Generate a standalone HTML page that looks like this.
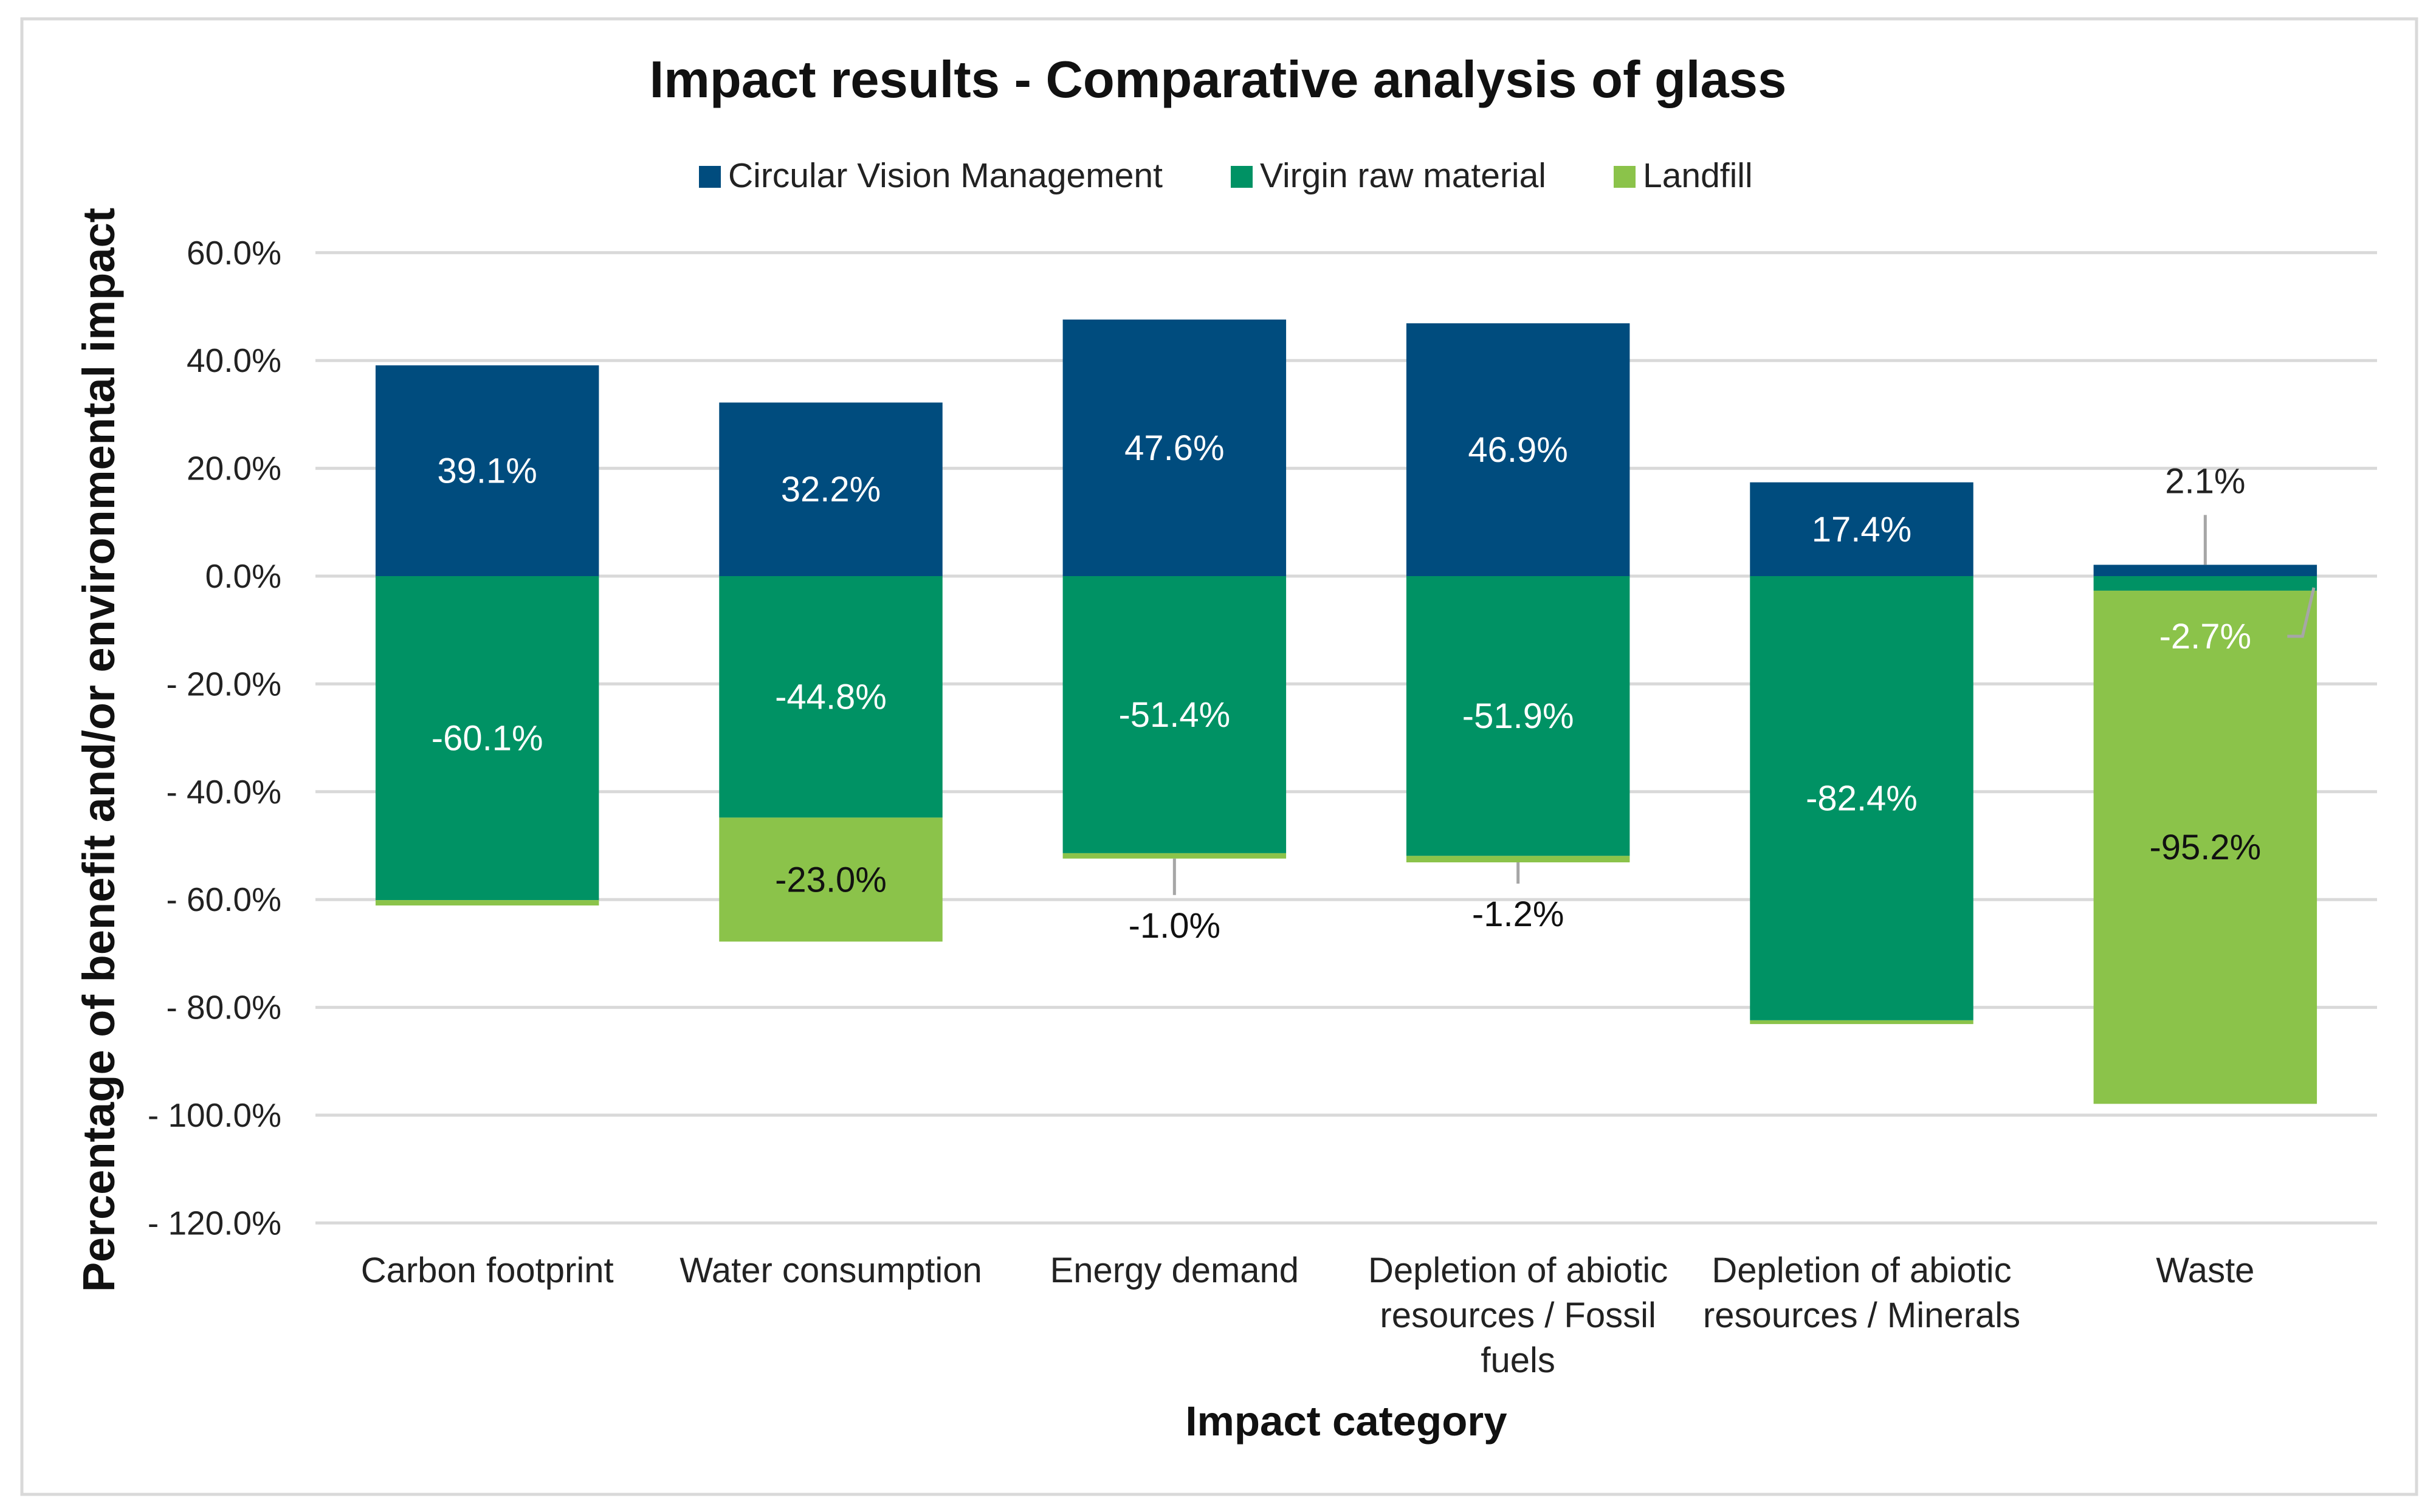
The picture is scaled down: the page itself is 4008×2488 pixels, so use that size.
<!DOCTYPE html>
<html><head><meta charset="utf-8"><style>
html,body{margin:0;padding:0;background:#fff;}
svg{display:block;font-family:"Liberation Sans",sans-serif;}
</style></head><body>
<svg id="chart" width="4008" height="2488" viewBox="0 0 4008 2488" xmlns="http://www.w3.org/2000/svg">
<rect x="36" y="31" width="3940" height="2428" fill="#fff" stroke="#d9d9d9" stroke-width="5"/>
<text x="2004" y="160" text-anchor="middle" font-size="85" font-weight="bold" fill="#111">Impact results - Comparative analysis of glass</text>
<g font-size="57" fill="#222">
<rect x="1150" y="273" width="36" height="36" fill="#004c7e"/>
<text x="1198" y="308">Circular Vision Management</text>
<rect x="2025" y="273" width="36" height="36" fill="#009264"/>
<text x="2073" y="308">Virgin raw material</text>
<rect x="2655" y="273" width="36" height="36" fill="#8bc34a"/>
<text x="2703" y="308">Landfill</text>
</g>
<g id="grid"></g>
<g id="bars"></g>
<g id="labels"></g>
<text transform="translate(188,1234) rotate(-90)" text-anchor="middle" font-size="74" font-weight="bold" fill="#111">Percentage of benefit and/or environmental impact</text>
<text x="2215" y="2362" text-anchor="middle" font-size="69" font-weight="bold" fill="#111">Impact category</text>
</svg>
<script>
const categories = [["Carbon footprint"],["Water consumption"],["Energy demand"],["Depletion of abiotic","resources / Fossil","fuels"],["Depletion of abiotic","resources / Minerals"],["Waste"]];
const cvm = [39.1, 32.2, 47.6, 46.9, 17.4, 2.1];
const virgin = [-60.1, -44.8, -51.4, -51.9, -82.4, -2.7];
const landfill = [-1.0, -23.0, -1.0, -1.2, -0.7, -95.2];
const ticks = [60, 40, 20, 0, -20, -40, -60, -80, -100, -120];
const tickLabels = ["60.0%","40.0%","20.0%","0.0%","- 20.0%","- 40.0%","- 60.0%","- 80.0%","- 100.0%","- 120.0%"];

const NS = "http://www.w3.org/2000/svg";
const X0 = 519, X1 = 3911, Y0 = 948, PER = 177.4/20;
const band = (X1 - X0) / categories.length, bw = band * 0.65;
const y = v => Y0 - v * PER;
const xc = i => X0 + band * (i + 0.5);
function mk(tag, attrs, parent, text){
  const el = document.createElementNS(NS, tag);
  for (const k in attrs) el.setAttribute(k, attrs[k]);
  if (text !== undefined) el.textContent = text;
  parent.appendChild(el); return el;
}
const grid = document.getElementById('grid');
ticks.forEach((t, i) => {
  const l = mk('line', {x1:X0, x2:X1, y1:y(t), y2:y(t), stroke:'#d9d9d9', 'stroke-width':5}, grid);
  
  
  const tx = mk('text', {x:463, y:y(t)+19, 'text-anchor':'end', 'font-size':55, fill:'#222'}, grid, tickLabels[i]);
  
  
});
const bars = document.getElementById('bars');
const labels = document.getElementById('labels');
const fmt = v => v.toFixed(1) + '%';
function lab(x, yy, s, fill){
  const t = mk('text', {x:x, y:yy, 'text-anchor':'middle', 'font-size':58, fill:fill}, labels, s);
  
  
}
function leader(pts){
  const p = mk('polyline', {points:pts, fill:'none', stroke:'#a6a6a6', 'stroke-width':5}, labels);
  
  
}
categories.forEach((c, i) => {
  const cx = xc(i), x = cx - bw/2;
  const b1 = mk('rect', {x:x, y:y(cvm[i]), width:bw, height:y(0)-y(cvm[i]), fill:'#004c7e'}, bars);
  
  
  const b2 = mk('rect', {x:x, y:y(0), width:bw, height:y(virgin[i])-y(0), fill:'#009264'}, bars);
  
  
  const lt = virgin[i] + landfill[i];
  const b3 = mk('rect', {x:x, y:y(virgin[i]), width:bw, height:y(lt)-y(virgin[i]), fill:'#8bc34a'}, bars);
  
  
  c.forEach((line, k) => {
    const t = mk('text', {x:cx, y:2110 + k*74, 'text-anchor':'middle', 'font-size':58, fill:'#222'}, labels, line);
    
    
  });
  if (cvm[i] > 8) lab(cx, (y(cvm[i])+y(0))/2 + 20, fmt(cvm[i]), '#fff');
  else { lab(cx, y(cvm[i]) - 118, fmt(cvm[i]), '#222'); leader(`${cx},${y(cvm[i])-82} ${cx},${y(cvm[i])}`); }
  if (virgin[i] < -8) lab(cx, (y(0)+y(virgin[i]))/2 + 20, fmt(virgin[i]), '#fff');
  else { lab(cx, y(virgin[i]) + 95, fmt(virgin[i]), '#fff'); leader(`${cx+135},${y(virgin[i])+75} ${cx+160},${y(virgin[i])+75} ${cx+bw/2-5},${y(virgin[i])-5}`); }
  if (landfill[i] < -8) lab(cx, (y(virgin[i])+y(lt))/2 + 20, fmt(landfill[i]), '#111');
  else if (i === 2 || i === 3) {
    const off = i === 2 ? 60 : 35;
    lab(cx, y(lt) + off + 70, fmt(landfill[i]), '#111');
    leader(`${cx},${y(lt)} ${cx},${y(lt)+off}`);
  }
});
</script>
</body></html>
